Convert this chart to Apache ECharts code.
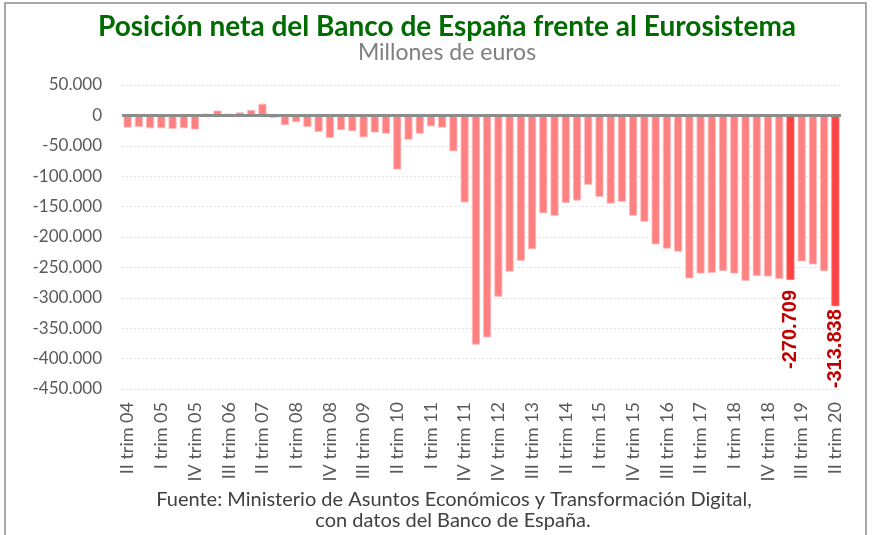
<!DOCTYPE html>
<html>
<head>
<meta charset="utf-8">
<script src="https://cdn.jsdelivr.net/npm/echarts@6/dist/echarts.min.js"></script>
<style>
  html, body { margin: 0; padding: 0; background: #fff; }
  #chart { width: 874px; height: 535px; }
</style>
</head>
<body>
<div id="chart"></div>
<script>
// trimestres (falta uno de 2012 en la serie original)
var categories = [
  "II trim 04", "III trim 04", "IV trim 04",
  "I trim 05", "II trim 05", "III trim 05", "IV trim 05",
  "I trim 06", "II trim 06", "III trim 06", "IV trim 06",
  "I trim 07", "II trim 07", "III trim 07", "IV trim 07",
  "I trim 08", "II trim 08", "III trim 08", "IV trim 08",
  "I trim 09", "II trim 09", "III trim 09", "IV trim 09",
  "I trim 10", "II trim 10", "III trim 10", "IV trim 10",
  "I trim 11", "II trim 11", "III trim 11", "IV trim 11",
  "II trim 12", "III trim 12", "IV trim 12",
  "I trim 13", "II trim 13", "III trim 13", "IV trim 13",
  "I trim 14", "II trim 14", "III trim 14", "IV trim 14",
  "I trim 15", "II trim 15", "III trim 15", "IV trim 15",
  "I trim 16", "II trim 16", "III trim 16", "IV trim 16",
  "I trim 17", "II trim 17", "III trim 17", "IV trim 17",
  "I trim 18", "II trim 18", "III trim 18", "IV trim 18",
  "I trim 19", "II trim 19", "III trim 19", "IV trim 19",
  "I trim 20", "II trim 20"
];

// millones de euros
var values = [
  -20000, -19000, -21000,
  -21000, -22000, -21000, -23000,
  3000, 8000, 3000, 5000,
  9000, 19000, -4000, -16000,
  -11000, -19000, -27000, -37000,
  -24000, -26000, -36000, -28000,
  -30000, -89000, -40000, -30000,
  -18000, -20000, -59000, -143000,
  -377000, -365000, -298000,
  -257000, -239000, -220000, -161000,
  -165000, -144000, -140000, -114000,
  -134000, -145000, -142000, -165000,
  -175000, -212000, -219000, -224000,
  -268000, -260000, -259000, -256000,
  -260000, -272000, -264000, -265000,
  -269000, -270709, -240000, -245000,
  -256000, -313838
];

// barras resaltadas con etiqueta
var highlighted = ["II trim 19", "II trim 20"];
var labelGap = [10, 3];

var yTicks = { min: -450000, max: 50000, step: 50000 };

function fmt(v) {
  var s = Math.abs(v).toString().replace(/\B(?=(\d{3})+(?!\d))/g, ".");
  return (v < 0 ? "-" : "") + s;
}

var barData = values.map(function (v, i) {
  var h = highlighted.indexOf(categories[i]);
  var item = { value: v };
  if (h >= 0) {
    item.itemStyle = { color: "#FF4242", borderColor: "#FF7070" };
    item.label = {
      show: true,
      position: "bottom",
      distance: labelGap[h],
      rotate: 90,
      align: "right",
      verticalAlign: "middle",
      formatter: function (p) { return fmt(p.value); },
      color: "#C00000",
      fontFamily: "Liberation Sans",
      fontWeight: "bold",
      fontSize: 20
    };
  }
  return item;
});

var myChart = echarts.init(document.getElementById("chart"));

var option = {
  animation: false,
  backgroundColor: "#fff",
  textStyle: { fontFamily: "Lato" },
  graphic: [
    {
      type: "rect",
      shape: { x: 5, y: 3, width: 861, height: 545 },
      style: { fill: "none", stroke: "#8C8C8C", lineWidth: 1.5 },
      silent: true
    },
    // titulo y subtitulo
    {
      type: "text",
      x: 447,
      y: 27,
      style: {
        text: "Posición neta del Banco de España frente al Eurosistema",
        align: "center",
        verticalAlign: "middle",
        fill: "#006B00",
        font: "bold 28px Lato"
      }
    },
    {
      type: "text",
      x: 447,
      y: 53,
      style: {
        text: "Millones de euros",
        align: "center",
        verticalAlign: "middle",
        fill: "#7F7F7F",
        font: "23px Lato"
      }
    },
    // fuente
    {
      type: "text",
      x: 454,
      y: 500,
      style: {
        text: "Fuente: Ministerio de Asuntos Económicos y Transformación Digital,",
        align: "center",
        verticalAlign: "middle",
        fill: "#404040",
        font: "20px Lato"
      }
    },
    {
      type: "text",
      x: 453,
      y: 521,
      style: {
        text: "con datos del Banco de España.",
        align: "center",
        verticalAlign: "middle",
        fill: "#404040",
        font: "20px Lato"
      }
    }
  ],
  grid: { left: 122, right: 33, top: 85, bottom: 146 },
  xAxis: {
    type: "category",
    data: categories,
    axisLine: { show: false, onZero: false },
    axisTick: { show: false },
    axisLabel: {
      interval: 2,
      rotate: 90,
      margin: 13,
      color: "#595959",
      fontFamily: "Lato",
      fontSize: 18
    }
  },
  yAxis: {
    type: "value",
    min: yTicks.min,
    max: yTicks.max,
    interval: yTicks.step,
    axisLine: { show: false },
    axisTick: { show: false },
    axisLabel: {
      margin: 20,
      color: "#595959",
      fontFamily: "Lato",
      fontSize: 17,
      formatter: fmt
    },
    splitLine: { lineStyle: { color: "#E3E3E3", type: [2, 2], width: 1 } }
  },
  series: [
    {
      type: "bar",
      data: barData,
      barWidth: 8,
      itemStyle: { color: "#FF8080", borderColor: "#FFB8B8", borderWidth: 0.8 },
      markLine: {
        silent: true,
        symbol: ["none", "none"],
        label: { show: false },
        lineStyle: { color: "#8C8C8C", width: 3, type: "solid" },
        data: [{ yAxis: 0 }]
      }
    }
  ]
};

myChart.setOption(option);
</script>
</body>
</html>
